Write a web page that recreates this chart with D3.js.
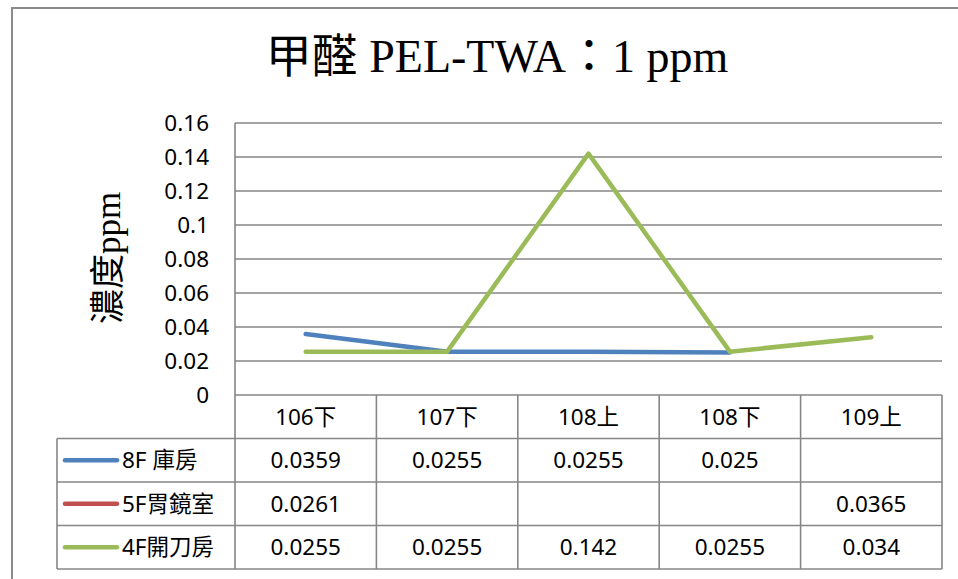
<!DOCTYPE html>
<meta charset="utf-8">
<style>
body { margin: 0; background: #fff; }
text { font-family: "Noto Sans", "Noto Sans CJK TC", sans-serif; fill: #000; }
.serif { font-family: "Liberation Serif", "Noto Sans CJK TC", serif; }
</style>
<body>
<svg width="958" height="579"></svg>
<script src="https://d3js.org/d3.v7.min.js"></script>
<script>

var categories = ["106下", "107下", "108上", "108下", "109上"];
var seriesNames = ["8F 庫房", "5F胃鏡室", "4F開刀房"];
var store8F = [0.0359, 0.0255, 0.0255, 0.025, null];
var endo5F = [0.0261, null, null, null, 0.0365];
var or4F = [0.0255, 0.0255, 0.142, 0.0255, 0.034];
var valueLabels = [
  ["0.0359", "0.0255", "0.0255", "0.025", ""],
  ["0.0261", "", "", "", "0.0365"],
  ["0.0255", "0.0255", "0.142", "0.0255", "0.034"]
];
var yTicks = [0, 0.02, 0.04, 0.06, 0.08, 0.1, 0.12, 0.14, 0.16];
var yTickLabels = ["0", "0.02", "0.04", "0.06", "0.08", "0.1", "0.12", "0.14", "0.16"];
var colors = ["#4f81bd", "#c0504d", "#9bbb59"];

var series = [store8F, endo5F, or4F];

var svg = d3.select("svg");
var gridColor = "#868686";

var x = d3.scaleBand().domain(categories).range([235, 942]).padding(0);
var y = d3.scaleLinear().domain([0, 0.16]).range([395, 123]);

// outer frame
svg.append("rect")
    .attr("x", 12).attr("y", 8)
    .attr("width", 960).attr("height", 600)
    .attr("fill", "none")
    .attr("stroke", "#8a8a8a")
    .attr("stroke-width", 2);

// title
svg.append("text")
    .attr("class", "serif")
    .attr("x", 497).attr("y", 72)
    .attr("text-anchor", "middle")
    .attr("font-size", 46)
    .text("甲醛 PEL-TWA：1 ppm");

// y label
svg.append("text")
    .attr("class", "serif")
    .attr("transform", "translate(120,258) rotate(-90)")
    .attr("text-anchor", "middle")
    .attr("font-size", 35)
    .text("濃度ppm");

// gridlines
svg.append("g").selectAll("line")
    .data(yTicks.slice(1))
    .enter().append("line")
    .attr("x1", x.range()[0]).attr("x2", x.range()[1])
    .attr("y1", function(d) { return y(d); })
    .attr("y2", function(d) { return y(d); })
    .attr("stroke", gridColor)
    .attr("stroke-width", 1.6);

// y tick labels
svg.append("g").selectAll("text")
    .data(yTicks)
    .enter().append("text")
    .attr("x", 209)
    .attr("y", function(d) { return y(d); })
    .attr("dy", "0.35em")
    .attr("text-anchor", "end")
    .attr("font-size", 22.5)
    .text(function(d, i) { return yTickLabels[i]; });

// data table
var tableTop = y(0), rowH = 43.5, legendLeft = 57;
var tableBottom = tableTop + rowH * 4;
var tg = svg.append("g").attr("stroke", gridColor).attr("stroke-width", 1.6);

// horizontal lines
tg.append("line").attr("x1", x.range()[0]).attr("x2", x.range()[1])
    .attr("y1", tableTop).attr("y2", tableTop);
for (var r = 1; r <= 4; r++) {
  tg.append("line").attr("x1", legendLeft).attr("x2", x.range()[1])
      .attr("y1", tableTop + r * rowH).attr("y2", tableTop + r * rowH);
}
// vertical lines
tg.append("line").attr("x1", x.range()[0]).attr("x2", x.range()[0])
    .attr("y1", y(0.16)).attr("y2", tableBottom);
tg.append("line").attr("x1", legendLeft).attr("x2", legendLeft)
    .attr("y1", tableTop + rowH).attr("y2", tableBottom);
categories.forEach(function(c) {
  var xr = x(c) + x.bandwidth();
  tg.append("line").attr("x1", xr).attr("x2", xr)
      .attr("y1", tableTop).attr("y2", tableBottom);
});

// header row
svg.append("g").selectAll("text")
    .data(categories)
    .enter().append("text")
    .attr("x", function(d) { return x(d) + x.bandwidth() / 2; })
    .attr("y", tableTop + rowH / 2)
    .attr("dy", "0.35em")
    .attr("text-anchor", "middle")
    .attr("font-size", 22.5)
    .text(function(d) { return d; });

// legend + values
seriesNames.forEach(function(name, i) {
  var cy = tableTop + rowH * (i + 1) + rowH / 2;
  svg.append("line")
      .attr("x1", 65).attr("x2", 117)
      .attr("y1", cy).attr("y2", cy)
      .attr("stroke", colors[i])
      .attr("stroke-width", 4.5)
      .attr("stroke-linecap", "round");
  svg.append("text")
      .attr("x", 122).attr("y", cy)
      .attr("dy", "0.35em")
      .attr("font-size", 22.5)
      .text(name);
  svg.append("g").selectAll("text")
      .data(categories)
      .enter().append("text")
      .attr("x", function(d) { return x(d) + x.bandwidth() / 2; })
      .attr("y", cy)
      .attr("dy", "0.35em")
      .attr("text-anchor", "middle")
      .attr("font-size", 22.5)
      .text(function(d, j) { return valueLabels[i][j]; });
});

// lines: only runs of consecutive values (isolated points draw nothing)
var line = d3.line()
    .x(function(d) { return x(d.cat) + x.bandwidth() / 2; })
    .y(function(d) { return y(d.v); });

series.forEach(function(vals, i) {
  var runs = [], cur = [];
  vals.forEach(function(v, j) {
    if (v == null) { if (cur.length) runs.push(cur); cur = []; }
    else cur.push({cat: categories[j], v: v});
  });
  if (cur.length) runs.push(cur);
  runs.filter(function(r) { return r.length > 1; }).forEach(function(r) {
    svg.append("path")
        .attr("d", line(r))
        .attr("fill", "none")
        .attr("stroke", colors[i])
        .attr("stroke-width", 4.5)
        .attr("stroke-linecap", "round")
        .attr("stroke-linejoin", "round");
  });
});

</script>
</body>
